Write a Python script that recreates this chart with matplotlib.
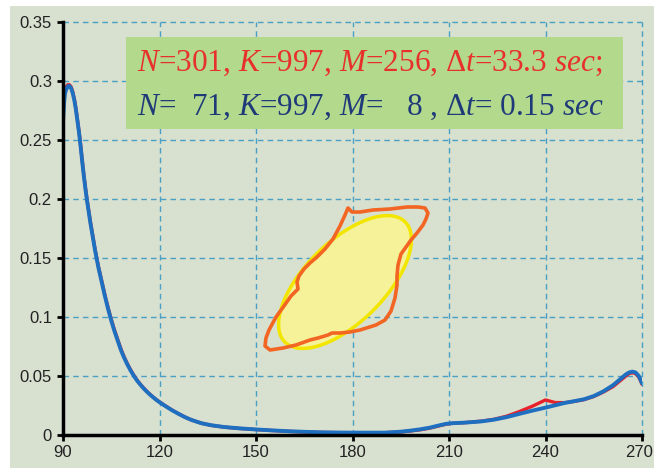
import numpy as np
import matplotlib
matplotlib.use('Agg')
import matplotlib.pyplot as plt
import matplotlib.transforms as mtransforms
from matplotlib.patches import Rectangle, Polygon

# данные кривых
x_vals = [90, 90.3, 90.6, 91, 91.5, 92, 92.5, 93, 93.5, 94, 94.5, 95, 95.5, 96,
          96.5, 97, 97.5, 98, 98.5, 99, 99.5, 100, 100.5, 101, 101.5, 102, 103,
          104, 105, 106, 107, 108, 109, 110, 111, 112, 113, 114, 115, 116, 117,
          118, 119, 120, 122, 124, 126, 128, 130, 133, 136, 140, 145, 150, 155,
          160, 165, 170, 175, 180, 185, 190, 195, 198, 201, 204, 207, 209, 211,
          215, 220, 224, 228, 232, 236, 240, 243, 246, 249, 252, 255, 258, 261,
          263, 265, 266, 267, 268, 269, 269.5, 270]
blue_vals = [0.265, 0.280, 0.289, 0.293, 0.2955, 0.2958, 0.294, 0.290, 0.284,
             0.276, 0.266, 0.256, 0.244, 0.231, 0.219, 0.208, 0.198, 0.189,
             0.180, 0.172, 0.164, 0.156, 0.149, 0.142, 0.136, 0.130, 0.118,
             0.107, 0.097, 0.088, 0.080, 0.072, 0.0655, 0.0598, 0.0547, 0.0502,
             0.0462, 0.0428, 0.0397, 0.0369, 0.0343, 0.0320, 0.0298, 0.0278,
             0.0242, 0.0208, 0.0178, 0.0150, 0.0127, 0.0100, 0.0083, 0.0068,
             0.0056, 0.0047, 0.0039, 0.0032, 0.0027, 0.0023, 0.0021, 0.0020,
             0.0020, 0.0020, 0.0028, 0.0037, 0.0048, 0.0062, 0.0082, 0.0094,
             0.0100, 0.0105, 0.0115, 0.0130, 0.0152, 0.0180, 0.0207, 0.0232,
             0.0252, 0.0272, 0.0287, 0.0303, 0.0330, 0.0370, 0.0422, 0.0468,
             0.0514, 0.0530, 0.0537, 0.0530, 0.0500, 0.0470, 0.0438]
red_vals = [0.270, 0.283, 0.291, 0.295, 0.2968, 0.2968, 0.2952, 0.291, 0.285,
            0.277, 0.267, 0.257, 0.245, 0.232, 0.220, 0.209, 0.199, 0.190,
            0.181, 0.173, 0.165, 0.157, 0.150, 0.143, 0.137, 0.131, 0.119,
            0.108, 0.098, 0.089, 0.081, 0.073, 0.0663, 0.0605, 0.0553, 0.0507,
            0.0466, 0.0432, 0.0400, 0.0372, 0.0346, 0.0322, 0.0300, 0.0280,
            0.0244, 0.0210, 0.0179, 0.0151, 0.0127, 0.0100, 0.0082, 0.0067,
            0.0055, 0.0046, 0.0038, 0.0031, 0.0026, 0.0022, 0.0020, 0.0019,
            0.0019, 0.0019, 0.0026, 0.0034, 0.0044, 0.0058, 0.0078, 0.0091,
            0.0099, 0.0105, 0.0117, 0.0133, 0.0160, 0.0200, 0.0245, 0.0297,
            0.0275, 0.0274, 0.0285, 0.0300, 0.0326, 0.0364, 0.0410, 0.0455,
            0.0500, 0.0520, 0.0528, 0.0520, 0.0490, 0.0462, 0.0430]

x_ticks = [90, 120, 150, 180, 210, 240, 270]
y_ticks = [0, 0.05, 0.1, 0.15, 0.2, 0.25, 0.3, 0.35]
y_tick_labels = ['0', '0.05', '0.1', '0.15', '0.2', '0.25', '0.3', '0.35']

legend_red = r'$N$=301, $K$=997, $M$=256, Δ$t$=33.3 $sec$;'
legend_blue = r'$N$=  71, $K$=997, $M$=   8 , Δ$t$= 0.15 $sec$'

# вставка: эллипс (пиксели картинки: центр, полуоси, угол)
ell_center = (345, 282)
ell_axes = (85, 40)
ell_angle = 45
# вставка: оранжевый контур (пиксели картинки)
orange_px = [(348, 208), (352, 212), (360, 212), (373, 210), (390, 209), (407, 207),
             (418, 207), (425, 208), (428, 213), (426, 219), (423, 225), (417, 233),
             (411, 240), (406, 247), (401, 254), (398, 265), (397, 276), (397, 285),
             (395, 298), (391, 311), (385, 320), (376, 325), (360, 330), (350, 332),
             (340, 333), (332, 333), (328, 335), (318, 338), (310, 340), (296, 345),
             (283, 348), (270, 350), (265, 346), (266, 338), (269, 330), (276, 317),
             (284, 306), (291, 296), (298, 289), (297, 282), (299, 276), (304, 269),
             (310, 263), (317, 257), (325, 249), (333, 239), (340, 226), (345, 215)]

W, H = 654, 468
X0, X1, Y0, Y1 = 63, 642, 22, 435  # границы осей в пикселях


def px_to_data(px, py):
    x = 90 + (px - X0) * 180 / (X1 - X0)
    y = (Y1 - py) * 0.35 / (Y1 - Y0)
    return x, y


fig = plt.figure(figsize=(W / 100, H / 100), dpi=100, facecolor='white')
bg = '#d8e0d0'
fig.patches.append(Rectangle((10 / W, 0), 1 - 10 / W, 1 - 6 / H, transform=fig.transFigure,
                             facecolor=bg, edgecolor='none', zorder=-10))
ax = fig.add_axes([X0 / W, 1 - Y1 / H, (X1 - X0) / W, (Y1 - Y0) / H])
ax.set_facecolor(bg)

ax.plot(x_vals, red_vals, color='#e8202a', linewidth=2.4, zorder=3,
        solid_capstyle='round', solid_joinstyle='round')
ax.plot(x_vals, blue_vals, color='#1f6fc0', linewidth=2.8, zorder=4,
        solid_capstyle='round', solid_joinstyle='round')

# эллипс
t = np.linspace(0, 2 * np.pi, 200)
th = np.deg2rad(ell_angle)
ex = ell_center[0] + ell_axes[0] * np.cos(t) * np.cos(th) - ell_axes[1] * np.sin(t) * np.sin(th)
ey = ell_center[1] - (ell_axes[0] * np.cos(t) * np.sin(th) + ell_axes[1] * np.sin(t) * np.cos(th))
ell_pts = [px_to_data(a, b) for a, b in zip(ex, ey)]
ax.add_patch(Polygon(ell_pts, closed=True, facecolor='#f6f29a', edgecolor='#f2e600',
                     linewidth=2.5, zorder=5))
orange_pts = [px_to_data(a, b) for a, b in orange_px]
ax.add_patch(Polygon(orange_pts, closed=True, facecolor='none', edgecolor='#f26522',
                     linewidth=2.6, joinstyle='round', zorder=6))

ax.set_xlim(90, 270)
ax.set_ylim(0, 0.35)
ax.set_xticks(x_ticks)
ax.set_yticks(y_ticks)
ax.set_yticklabels(y_tick_labels)
for lab in ax.get_xticklabels() + ax.get_yticklabels():
    lab.set_family('Liberation Sans')
    lab.set_fontsize(12)
    lab.set_color('#222222')
ax.tick_params(axis='both', direction='out', length=4, width=2, color='black')
ax.tick_params(axis='y', pad=4)
ax.tick_params(axis='x', pad=3)

# последнюю подпись чуть левее, чтобы не обрезалась краем
last = ax.get_xticklabels()[-1]
last.set_transform(last.get_transform() +
                   mtransforms.ScaledTranslation(-3 / 100, 0, fig.dpi_scale_trans))

ax.grid(color='#4a9fc4', linestyle=(0, (4, 3)), linewidth=1.0)
for gl in ax.get_xgridlines() + ax.get_ygridlines():
    gl.set_clip_on(False)
ax.set_axisbelow(True)

for s in ['top', 'right']:
    ax.spines[s].set_visible(False)
for s in ['left', 'bottom']:
    ax.spines[s].set_linewidth(2.5)
    ax.spines[s].set_zorder(7)

# плашка с подписью
fig.patches.append(Rectangle((126 / W, 1 - 129 / H), (623 - 126) / W, (129 - 37) / H,
                             transform=fig.transFigure, facecolor='#b3d98d',
                             edgecolor='none', zorder=1))
plt.rcParams['mathtext.fontset'] = 'custom'
plt.rcParams['mathtext.rm'] = 'Liberation Serif'
plt.rcParams['mathtext.it'] = 'Liberation Serif:italic'
fig.text(137 / W, 1 - 63 / H, legend_red, color='#e8302a', fontsize=22.5,
         family='Liberation Serif', va='center', ha='left', zorder=2)
fig.text(137 / W, 1 - 107 / H, legend_blue, color='#1f3a78', fontsize=22.5,
         family='Liberation Serif', va='center', ha='left', zorder=2)

fig.savefig('out.png', dpi=100, facecolor=fig.get_facecolor())
